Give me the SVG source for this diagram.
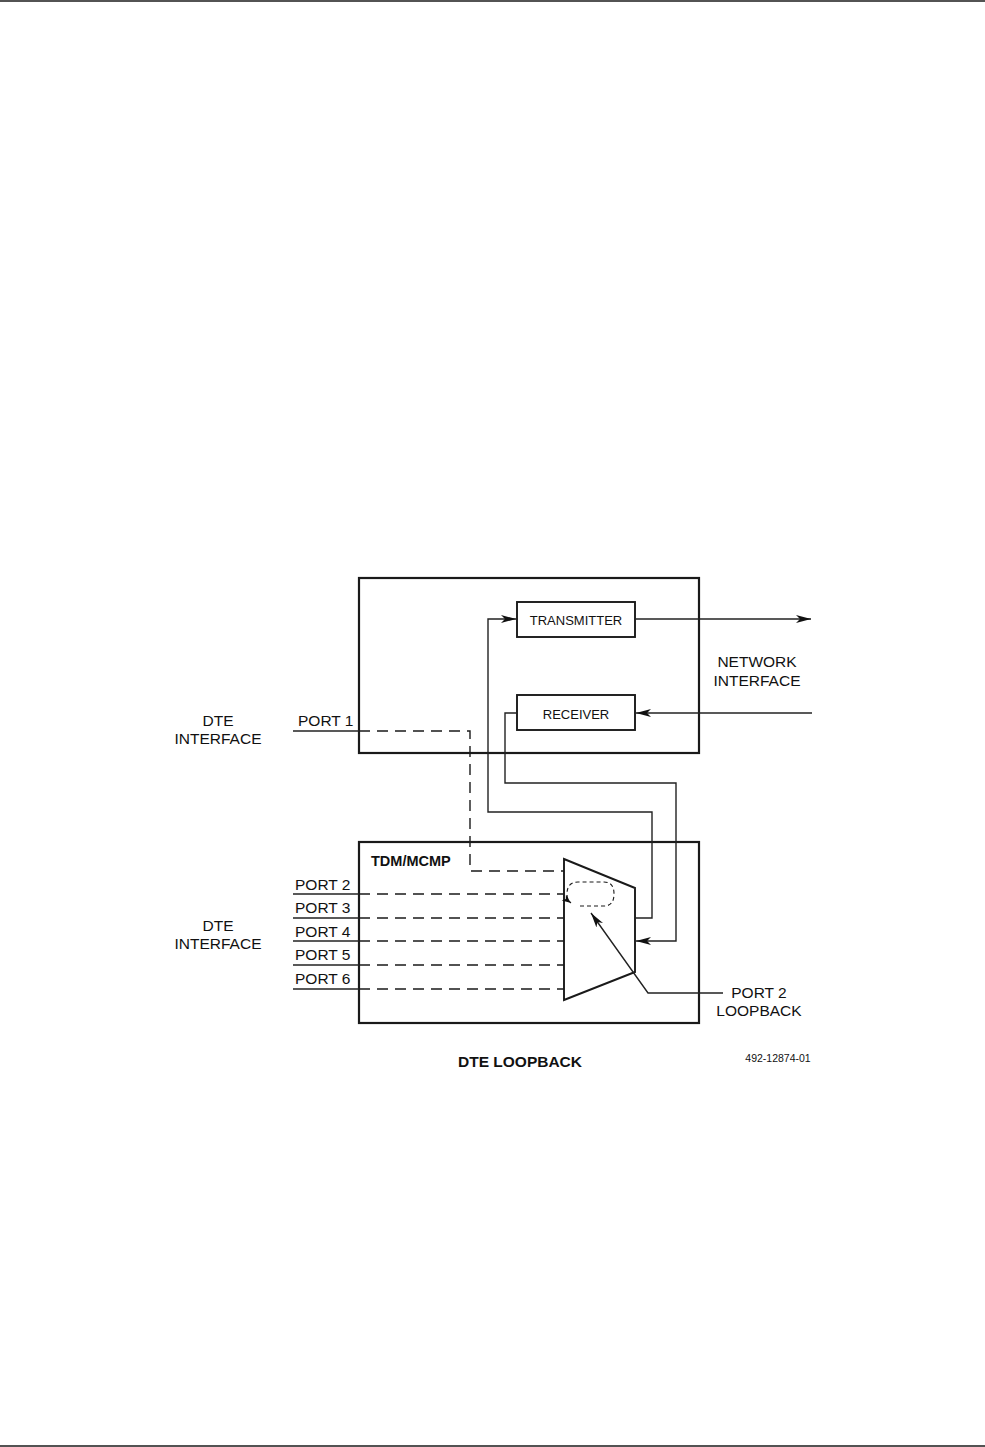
<svg xmlns="http://www.w3.org/2000/svg" width="985" height="1447" viewBox="0 0 985 1447">
<style>
text{font-family:"Liberation Sans",Arial,sans-serif;fill:#111}
.lbl{font-size:15.5px}
.box{fill:none;stroke:#1a1a1a;stroke-width:2.2}
.sbox{fill:#fff;stroke:#1a1a1a;stroke-width:1.9}
.ln{fill:none;stroke:#222;stroke-width:1.4}
.dash{fill:none;stroke:#1a1a1a;stroke-width:1.4;stroke-dasharray:11 7}
</style>
<defs>
<marker id="ah" markerWidth="16" markerHeight="9" refX="15" refY="4.5" orient="auto" markerUnits="userSpaceOnUse">
<path d="M0,0.5 L15,4.5 L0,8.5 L4,4.5 Z" fill="#111"/>
</marker>
<marker id="ahs" markerWidth="10" markerHeight="8" refX="9" refY="4" orient="auto" markerUnits="userSpaceOnUse">
<path d="M0,0.5 L9,4 L0,7.5 L2.5,4 Z" fill="#111"/>
</marker>
</defs>
<line x1="0" y1="1" x2="985" y2="1" stroke="#1a1a1a" stroke-width="1.6"/>
<line x1="0" y1="1446" x2="985" y2="1446" stroke="#1a1a1a" stroke-width="1.6"/>

<g id="network-box"><rect class="box" x="359" y="578" width="340" height="175"/></g>
<g id="transmitter"><rect class="sbox" x="517" y="602" width="118" height="35"/><text x="576" y="624.5" font-size="13" text-anchor="middle">TRANSMITTER</text></g>
<g id="receiver"><rect class="sbox" x="517" y="695" width="118" height="35"/><text x="576" y="718.5" font-size="13" text-anchor="middle">RECEIVER</text></g>
<g id="tdm-box"><rect class="box" x="359" y="842" width="340" height="181"/><text x="371" y="866" font-size="14.5" font-weight="bold">TDM/MCMP</text></g>
<g id="mux"><path d="M564,859 L635,888 L635,972 L564,1000 Z" fill="#fff" stroke="#1a1a1a" stroke-width="1.9"/></g>

<g id="labels">
<text class="lbl" x="757" y="667" text-anchor="middle">NETWORK</text>
<text class="lbl" x="757" y="686" text-anchor="middle">INTERFACE</text>
<text class="lbl" x="218" y="726" text-anchor="middle">DTE</text>
<text class="lbl" x="218" y="744" text-anchor="middle">INTERFACE</text>
<text class="lbl" x="218" y="931" text-anchor="middle">DTE</text>
<text class="lbl" x="218" y="949" text-anchor="middle">INTERFACE</text>
<text class="lbl" x="298" y="726">PORT 1</text>
<text class="lbl" x="295" y="890">PORT 2</text>
<text class="lbl" x="295" y="913">PORT 3</text>
<text class="lbl" x="295" y="937">PORT 4</text>
<text class="lbl" x="295" y="960">PORT 5</text>
<text class="lbl" x="295" y="984">PORT 6</text>
<text class="lbl" x="759" y="998" text-anchor="middle">PORT 2</text>
<text class="lbl" x="759" y="1016" text-anchor="middle">LOOPBACK</text>
<text x="520" y="1067" font-size="15.5" font-weight="bold" text-anchor="middle">DTE LOOPBACK</text>
<text x="778" y="1062" font-size="10.5" text-anchor="middle">492-12874-01</text>
</g>

<g id="connectors">
<line class="ln" x1="635" y1="619" x2="811" y2="619" marker-end="url(#ah)"/>
<line class="ln" x1="812" y1="713" x2="636" y2="713" stroke="#555" marker-end="url(#ah)"/>
<path class="ln" d="M635,918 L652,918 L652,812 L488,812 L488,619 L516,619" marker-end="url(#ah)"/>
<path class="ln" d="M517,713 L505,713 L505,783 L676,783 L676,941 L636,941" marker-end="url(#ah)"/>
<line class="ln" x1="293" y1="731" x2="359" y2="731"/>
<path class="dash" d="M359,731 L470,731 L470,871 L564,871"/>
<line class="ln" x1="293" y1="894" x2="359" y2="894"/>
<line class="dash" x1="359" y1="894" x2="564" y2="894"/>
<line class="ln" x1="293" y1="918" x2="359" y2="918"/>
<line class="dash" x1="359" y1="918" x2="564" y2="918"/>
<line class="ln" x1="293" y1="941" x2="359" y2="941"/>
<line class="dash" x1="359" y1="941" x2="564" y2="941"/>
<line class="ln" x1="293" y1="965" x2="359" y2="965"/>
<line class="dash" x1="359" y1="965" x2="564" y2="965"/>
<line class="ln" x1="293" y1="989" x2="359" y2="989"/>
<line class="dash" x1="359" y1="989" x2="564" y2="989"/>
<path d="M580,906 L604,906 Q614,906 614,894 Q614,882 604,882 L578,882 Q567,882 567,894 Q567,900 571,903" fill="none" stroke="#1a1a1a" stroke-width="1.1" stroke-dasharray="4 3" marker-end="url(#ahs)"/>
<path class="ln" d="M723,993 L648,993 L591,913" stroke-width="1.6" marker-end="url(#ah)"/>
</g>
</svg>
